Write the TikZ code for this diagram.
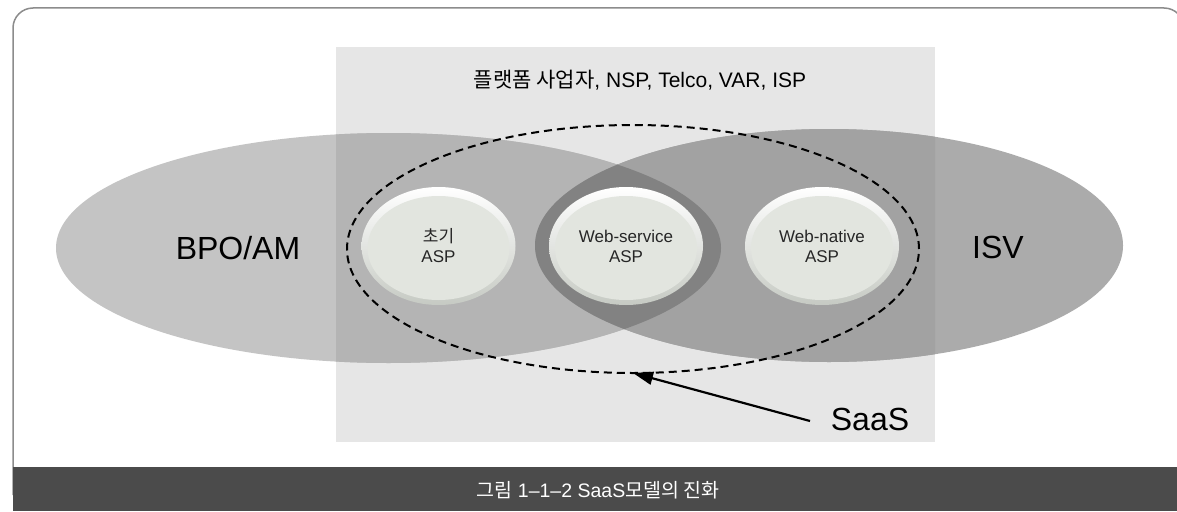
\documentclass[tikz,border=0pt]{standalone}
\usepackage{fontspec}
\setmainfont{Liberation Sans}
\newfontfamily\kr{Noto Sans CJK KR}
\usetikzlibrary{arrows.meta,shapes.geometric}

\definecolor{framegray}{HTML}{8C8C8C}
\definecolor{panelgray}{HTML}{E6E6E6}
\definecolor{bpoout}{HTML}{C4C4C4}
\definecolor{bpoin}{HTML}{B4B4B4}
\definecolor{isvout}{HTML}{ABABAB}
\definecolor{isvin}{HTML}{A2A2A2}
\definecolor{lensgray}{HTML}{828282}
\definecolor{bargray}{HTML}{4B4B4B}
\definecolor{aspbody}{HTML}{E2E5DF}
\definecolor{asprim}{HTML}{C6CAC3}

\tikzset{
  frame/.style={draw=framegray, line width=1.5pt},
  ring/.style={ellipse, draw=black, line width=2pt, dash pattern=on 8pt off 5pt,
    minimum width=572pt, minimum height=248pt, inner sep=0pt, outer sep=0pt},
  asp/.style={ellipse, minimum width=154pt, minimum height=118pt, inner sep=0pt,
    top color=white, bottom color=asprim, align=center, text=black!85,
    font=\fontsize{17}{20}\selectfont,
    path picture={\fill[aspbody] ([yshift=-2pt]path picture bounding box.center)
      ellipse [x radius=71pt, y radius=52pt];}},
  biglabel/.style={font=\fontsize{32}{36}\selectfont, text=black, inner sep=2pt},
  titletext/.style={font=\fontsize{21}{25}\selectfont, text=black},
  captext/.style={font=\fontsize{19.5}{23}\selectfont, text=white},
  pointer/.style={line width=2.2pt, -{Triangle[length=20pt, width=13pt]}},
}

\begin{document}
\begin{tikzpicture}[x=1pt, y=-1pt]
\useasboundingbox (0,0) rectangle (1177,511);
\clip (0,0) rectangle (1177,511);
\fill[white] (0,0) rectangle (1177,511);

% outer rounded frame
\draw[frame, rounded corners=20pt] (13,495) -- (13,8) -- (1184,8) -- (1184,495);

% platform panel
\fill[panelgray] (336,47) rectangle (935,442);

% the two large ellipses
\fill[bpoout] (388.5,248) ellipse [x radius=332.5pt, y radius=115pt];
\fill[isvout] (829,245.5) ellipse [x radius=294pt, y radius=116.5pt];
\begin{scope}
  \clip (336,47) rectangle (935,442);
  \fill[bpoin] (388.5,248) ellipse [x radius=332.5pt, y radius=115pt];
  \fill[isvin] (829,245.5) ellipse [x radius=294pt, y radius=116.5pt];
\end{scope}
% overlap of both
\begin{scope}
  \clip (388.5,248) ellipse [x radius=332.5pt, y radius=115pt];
  \fill[lensgray] (829,245.5) ellipse [x radius=294pt, y radius=116.5pt];
\end{scope}

% labels
\node[titletext] (platform) at (640,80) {{\kr 플랫폼 사업자}, NSP, Telco, VAR, ISP};
\node[biglabel] (bpolbl) at (238,248) {BPO/AM};
\node[biglabel] (isvlbl) at (998,247) {ISV};

% ASP stages
\node[asp] (early) at (438.5,246) {{\kr 초기}\\ASP};
\node[asp] (wsvc) at (626,246) {Web-service\\ASP};
\node[asp] (wnat) at (822,246) {Web-native\\ASP};

% SaaS boundary
\node[ring] (ring) at (633,249) {};
\node[biglabel] (saas) at (870,419) {SaaS};
\coordinate (tail) at (810,421);
\draw[pointer] (tail) -- (ring.south);

% caption bar
\fill[bargray] (13,467) rectangle (1177,511);
\node[captext] (cap) at (598,490) {{\kr 그림} 1–1–2 SaaS{\kr 모델의 진화}};
\end{tikzpicture}
\end{document}
